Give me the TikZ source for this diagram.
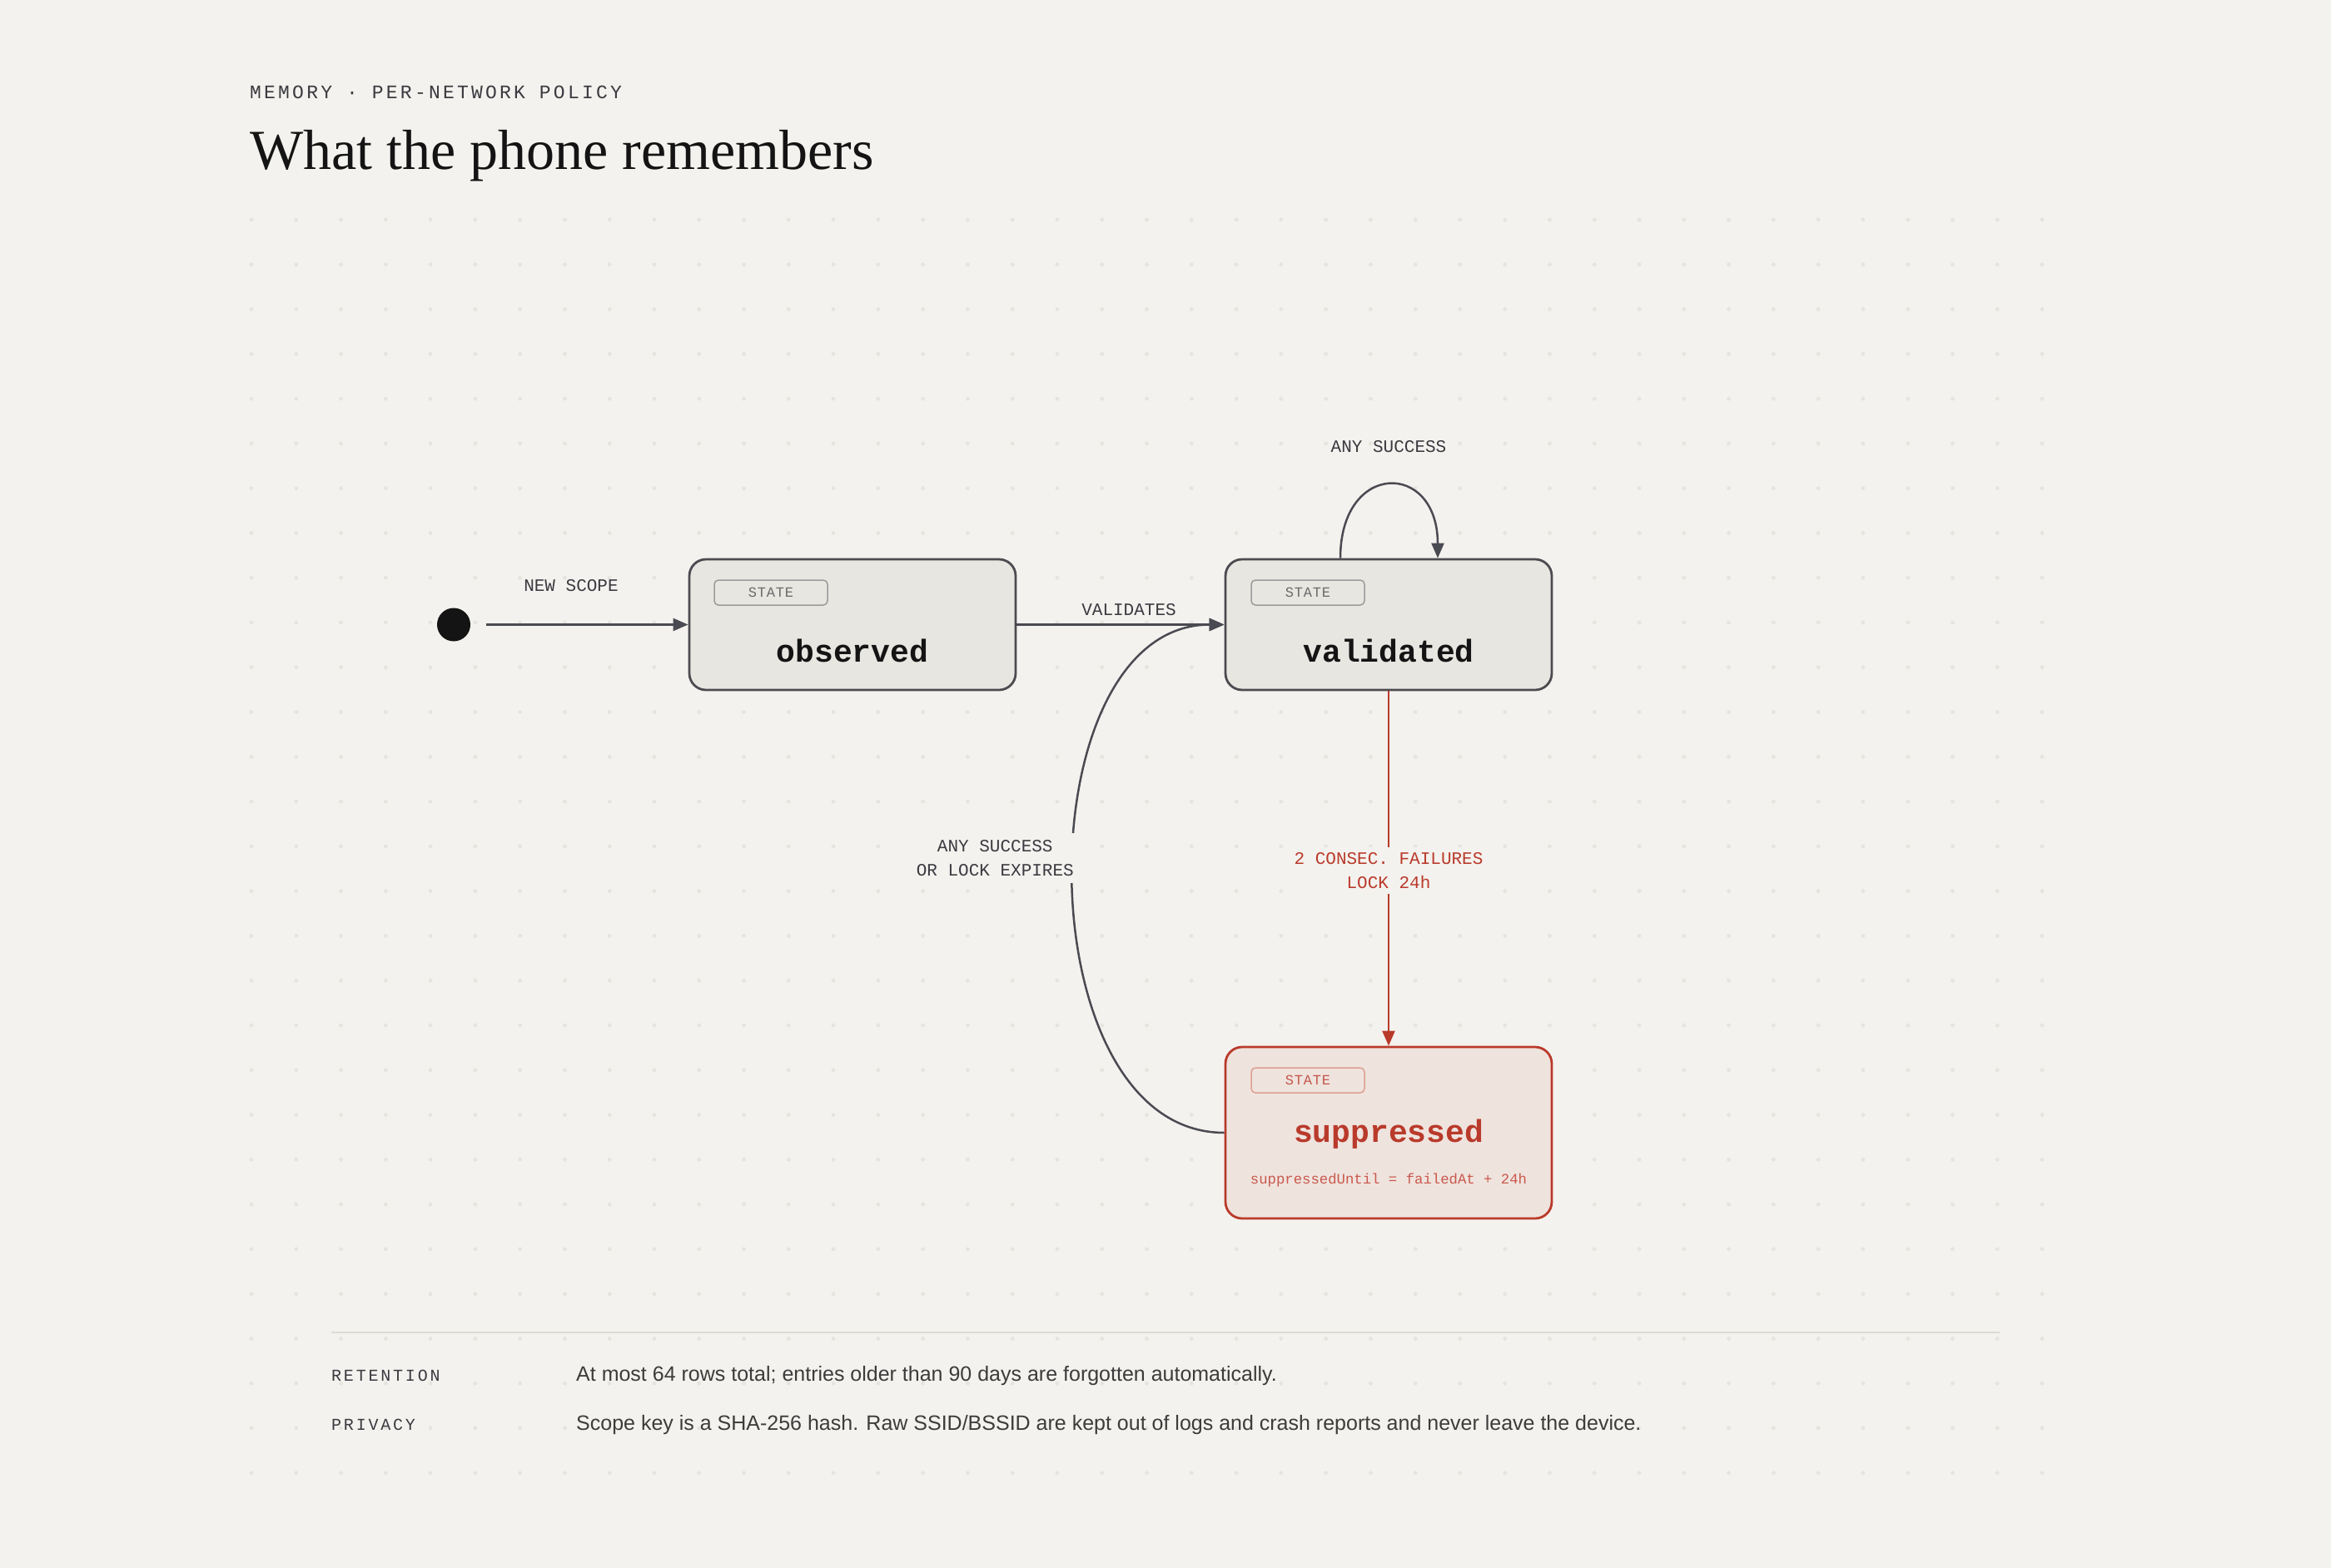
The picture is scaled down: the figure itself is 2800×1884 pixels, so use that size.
\documentclass[tikz,border=0pt]{standalone}
\usepackage{fontspec}
\setmainfont{Liberation Serif}
\newfontfamily\monof{Liberation Mono}
\newfontfamily\sansf{Liberation Sans}
\usetikzlibrary{arrows.meta}
\definecolor{bg}{HTML}{F4F2EE}
\definecolor{dotc}{HTML}{E6E4DF}
\definecolor{boxfill}{HTML}{E8E6E1}
\definecolor{boxline}{HTML}{4B4B50}
\definecolor{tagline}{HTML}{9C9C9C}
\definecolor{tagtext}{HTML}{6A6A6A}
\definecolor{ink}{HTML}{141414}
\definecolor{edgec}{HTML}{4A4A52}
\definecolor{lblc}{HTML}{3A3A40}
\definecolor{redc}{HTML}{B93A2B}
\definecolor{supfill}{HTML}{EFE3DE}
\definecolor{suptag}{HTML}{DCA093}
\definecolor{suptagtext}{HTML}{C4584B}
\definecolor{formulac}{HTML}{C9594C}
\definecolor{sepc}{HTML}{DDDBD6}
\definecolor{bodyc}{HTML}{3C3C3C}
\definecolor{eyebrowc}{HTML}{3A3A40}
\begin{document}
\begin{tikzpicture}[x=1pt,y=-1pt,
  statebox/.style={draw=boxline, fill=boxfill, line width=2.8pt, rounded corners=20pt,
    minimum width=392pt, minimum height=157pt, inner sep=0pt},
  supbox/.style={statebox, draw=redc, fill=supfill, minimum height=206pt},
  tagbox/.style={draw=tagline, line width=1.5pt, rounded corners=5pt, minimum width=136pt,
    minimum height=30pt, inner sep=0pt, text=tagtext,
    font=\monof\fontsize{17}{20}\selectfont\addfontfeatures{LetterSpace=5}},
  suptagbox/.style={tagbox, draw=suptag, text=suptagtext},
  statename/.style={anchor=base, inner sep=0pt, text=ink, font=\monof\bfseries\fontsize{38}{44}\selectfont},
  edge/.style={draw=edgec, line width=2.5pt, -{Triangle[length=18pt,width=15pt]}},
  rededge/.style={edge, draw=redc, -{Triangle[length=18pt,width=15pt,fill=redc]}},
  lbl/.style={text=lblc, font=\monof\fontsize{21}{29}\selectfont},
  sidelbl/.style={anchor=base west, inner sep=0pt, text=eyebrowc,
    font=\monof\fontsize{20}{24}\selectfont\addfontfeatures{LetterSpace=14}},
  bodytxt/.style={anchor=base west, inner sep=0pt, text=bodyc, font=\sansf\fontsize{25}{30}\selectfont}
]
\useasboundingbox (0,0) rectangle (2800,1884);
\fill[bg] (0,0) rectangle (2800,1884);
% dot grid
\foreach \i in {0,...,40}{
  \foreach \j in {0,...,28}{
    \fill[dotc] ({302+\i*53.775},{264+\j*53.775}) circle (2.4);
  }
}
% header
\node[anchor=base west, inner sep=0pt, text=eyebrowc,
  font=\monof\fontsize{23}{26}\selectfont\addfontfeatures{LetterSpace=14}] (eyebrow) at (300,118) {MEMORY · PER-NETWORK POLICY};
\node[anchor=base west, inner sep=0pt, text=ink, font=\fontsize{68}{80}\selectfont] (title) at (300,203) {What the phone remembers};

% states
\node[circle, fill=ink, minimum size=40pt, inner sep=0pt] (start) at (545,750.5) {};
\node[statebox] (obs) at (1024,750.5) {};
\node[tagbox] (obsTag) at (926,712) {STATE};
\node[statename] (obsName) at (1024,795) {observed};

\node[statebox] (val) at (1668,750.5) {};
\node[tagbox] (valTag) at (1571,712) {STATE};
\node[statename] (valName) at (1668,795) {validated};

\node[supbox] (sup) at (1668,1361) {};
\node[suptagbox] (supTag) at (1571,1298) {STATE};
\node[statename, text=redc] (supName) at (1668,1372) {suppressed};
\node[anchor=base, inner sep=0pt, text=formulac, font=\monof\fontsize{17.3}{20}\selectfont] (supFormula) at (1668,1422) {suppressedUntil = failedAt + 24h};

% connectors
\draw[edge, shorten <=19pt] (start) -- (obs);
\draw[edge] (obs.east) -- (val.west);
\draw[edge] ([xshift=-58pt]val.north) .. controls +(0,-117) and +(0,-117) .. ([xshift=59pt]val.north);
\draw[rededge] (val.south) -- (sup.north);
\draw[edge] (sup.west) .. controls (1229,1361) and (1229,750.5) .. (val.west);

% labels
\node[lbl, anchor=base, inner sep=0pt] (lNew) at (686,710) {NEW SCOPE};
\node[lbl, anchor=base, inner sep=0pt] (lValid) at (1356,739) {VALIDATES};
\node[lbl, anchor=base, inner sep=0pt] (lAny) at (1668,543) {ANY SUCCESS};
\node[lbl, align=center, fill=bg, anchor=east, inner xsep=10pt, inner ysep=8pt] (lRet) at (1300,1031) {ANY SUCCESS\\OR LOCK EXPIRES};
\node[lbl, text=redc, align=center, fill=bg, inner xsep=8pt, inner ysep=6pt] (lFail) at (1668,1046) {2 CONSEC. FAILURES\\LOCK 24h};

% footer
\coordinate (sepL) at (398,1601);
\coordinate (sepR) at (2402,1601);
\draw[sepc, line width=2pt] (sepL) -- (sepR);
\node[sidelbl] (retL) at (398,1659) {RETENTION};
\node[bodytxt] (retT) at (692,1659) {At most 64 rows total; entries older than 90 days are forgotten automatically.};
\node[sidelbl] (privL) at (398,1718) {PRIVACY};
\node[bodytxt] (privT) at (692,1718) {Scope key is a SHA-256 hash. Raw SSID/BSSID are kept out of logs and crash reports and never leave the device.};
\end{tikzpicture}
\end{document}
